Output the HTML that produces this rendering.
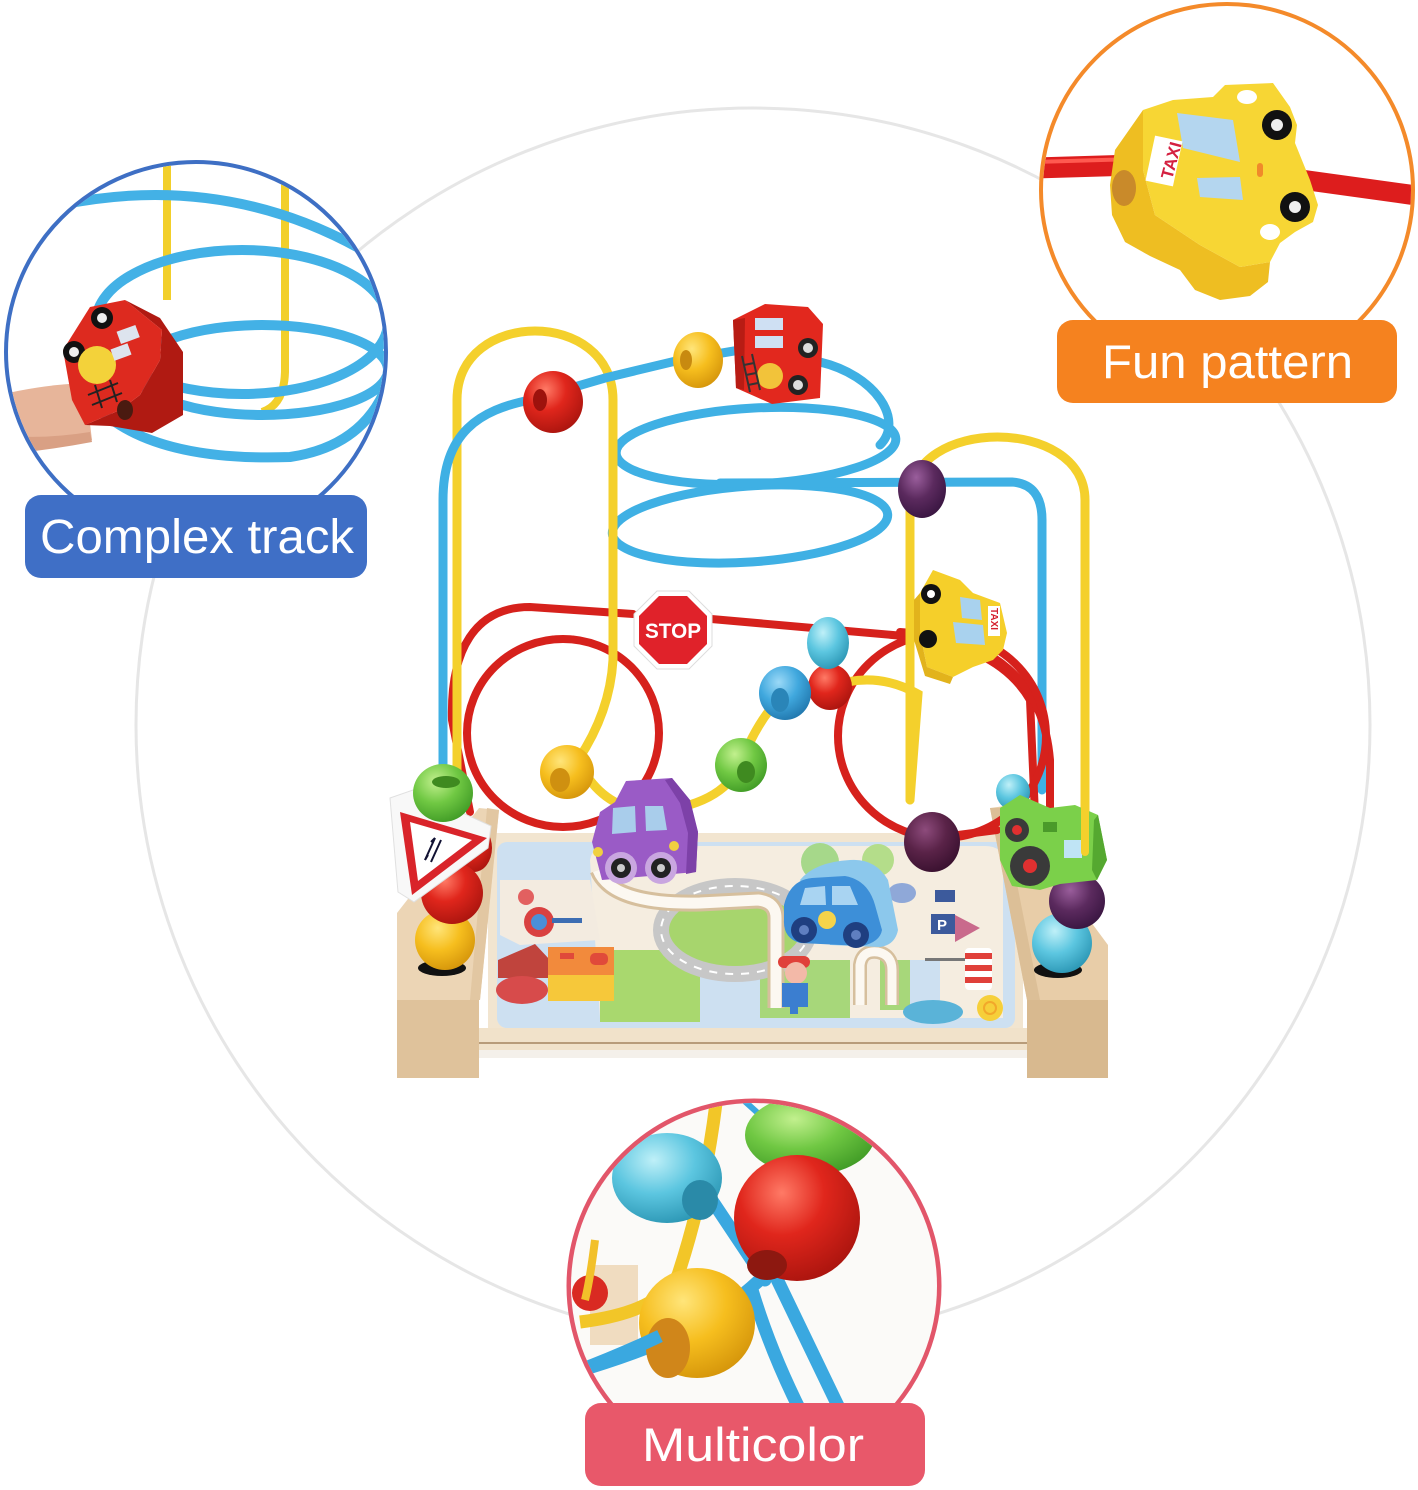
<!DOCTYPE html>
<html><head><meta charset="utf-8">
<style>
html,body{margin:0;padding:0;background:#fff;}
svg{display:block;}
</style></head>
<body>
<svg width="1418" height="1490" viewBox="0 0 1418 1490" xmlns="http://www.w3.org/2000/svg">
<defs>
 <radialGradient id="gR" cx="0.38" cy="0.3" r="0.75"><stop offset="0" stop-color="#ff7a66"/><stop offset="0.45" stop-color="#e0261c"/><stop offset="1" stop-color="#a9140e"/></radialGradient>
 <radialGradient id="gY" cx="0.38" cy="0.3" r="0.75"><stop offset="0" stop-color="#ffe57a"/><stop offset="0.5" stop-color="#f6be1e"/><stop offset="1" stop-color="#d4940a"/></radialGradient>
 <radialGradient id="gG" cx="0.38" cy="0.3" r="0.75"><stop offset="0" stop-color="#c2f08e"/><stop offset="0.5" stop-color="#70c843"/><stop offset="1" stop-color="#3f9a25"/></radialGradient>
 <radialGradient id="gB" cx="0.38" cy="0.3" r="0.75"><stop offset="0" stop-color="#9bd9f7"/><stop offset="0.5" stop-color="#40a8de"/><stop offset="1" stop-color="#2076ac"/></radialGradient>
 <radialGradient id="gT" cx="0.38" cy="0.3" r="0.75"><stop offset="0" stop-color="#bff0f8"/><stop offset="0.5" stop-color="#5cc6e0"/><stop offset="1" stop-color="#2a95b3"/></radialGradient>
 <radialGradient id="gP" cx="0.38" cy="0.3" r="0.75"><stop offset="0" stop-color="#9a5e9c"/><stop offset="0.5" stop-color="#5b2a5e"/><stop offset="1" stop-color="#381540"/></radialGradient>
 <radialGradient id="gD" cx="0.38" cy="0.3" r="0.75"><stop offset="0" stop-color="#8d4b7c"/><stop offset="0.5" stop-color="#5a2348"/><stop offset="1" stop-color="#38102e"/></radialGradient>
 <clipPath id="cB"><circle cx="196" cy="352" r="188"/></clipPath>
 <clipPath id="cO"><circle cx="1227" cy="190" r="184"/></clipPath>
 <clipPath id="cP"><circle cx="754" cy="1286" r="183"/></clipPath>
</defs>

<!-- big gray circle -->
<circle cx="753" cy="725" r="617" fill="none" stroke="#e6e6e6" stroke-width="3"/>

<!-- ================= MAIN TOY ================= -->
<!-- base -->
<g>
 <rect x="488" y="833" width="535" height="197" fill="#f2e5d0"/>
 <rect x="497" y="842" width="518" height="186" rx="10" fill="#cde0f1"/>
 <!-- cream areas -->
 <path d="M590 860 Q592 846 610 846 L985 846 Q1003 846 1003 862 L1003 1018 L940 1018 L940 960 L905 960 L905 1018 L815 1018 L815 965 L700 965 L700 1018 L600 1018 Z" fill="#f5ede0"/>
 <path d="M500 880 L590 880 L600 940 L520 945 L500 935 Z" fill="#f3ebe0"/>
 <!-- green patches -->
 <rect x="600" y="950" width="100" height="72" fill="#a9d86e"/>
 <rect x="760" y="960" width="90" height="58" fill="#a7d77a"/>
 <rect x="880" y="960" width="30" height="50" fill="#a7d77a"/>
 <circle cx="820" cy="862" r="19" fill="#a6d88a"/>
 <circle cx="878" cy="860" r="16" fill="#b4dd8a"/>
 <ellipse cx="735" cy="930" rx="74" ry="44" fill="#a7d56d" stroke="#c7c7c7" stroke-width="16"/>
 <ellipse cx="735" cy="930" rx="74" ry="44" fill="none" stroke="#fff" stroke-width="2" stroke-dasharray="8 8"/>
 <!-- slot groove -->
 <path d="M598 870 Q612 905 700 903 L758 900 Q776 902 776 918 L776 1008" fill="none" stroke="#d6bf9d" stroke-width="17"/>
 <path d="M598 870 Q612 905 700 903 L758 900 Q776 902 776 918 L776 1008" fill="none" stroke="#fcf8f1" stroke-width="11"/>
 <path d="M860 1005 L860 965 Q862 950 878 952 Q892 955 892 970 L892 1005" fill="none" stroke="#d6bf9d" stroke-width="14"/>
 <path d="M860 1005 L860 965 Q862 950 878 952 Q892 955 892 970 L892 1005" fill="none" stroke="#fcf8f1" stroke-width="9"/>
 <!-- house -->
 <polygon points="498,960 535,944 550,960 550,978 498,978" fill="#c0443d"/>
 <rect x="548" y="947" width="66" height="28" fill="#f28a3c"/>
 <rect x="548" y="975" width="66" height="26" fill="#f6c83a"/>
 <rect x="560" y="953" width="14" height="6" fill="#e04a3a"/>
 <rect x="590" y="953" width="18" height="12" rx="5" fill="#e04a3a"/>
 <ellipse cx="522" cy="990" rx="26" ry="14" fill="#d74b4b"/>
 <circle cx="539" cy="922" r="15" fill="#d94141"/>
 <circle cx="539" cy="922" r="8" fill="#4a8fd8"/>
 <rect x="552" y="918" width="30" height="5" fill="#3c6db3"/>
 <circle cx="526" cy="897" r="8" fill="#e26060"/>
 <!-- kid -->
 <rect x="778" y="956" width="32" height="12" rx="6" fill="#e0403a"/>
 <circle cx="796" cy="973" r="11" fill="#f3b9a8"/>
 <rect x="782" y="983" width="26" height="24" fill="#3b7ed0"/>
 <rect x="790" y="1006" width="8" height="8" fill="#3b7ed0"/>
 <!-- right print -->
 <rect x="931" y="914" width="24" height="20" fill="#3c5a9c"/>
 <text x="937" y="930" font-family="Liberation Sans, sans-serif" font-size="15" font-weight="bold" fill="#fff">P</text>
 <polygon points="955,915 980,928 955,942" fill="#c96a8c"/>
 <rect x="935" y="890" width="20" height="12" fill="#3c5a9c"/>
 <rect x="965" y="948" width="27" height="42" rx="4" fill="#fff"/>
 <rect x="965" y="953" width="27" height="6" fill="#e0403a"/>
 <rect x="965" y="965" width="27" height="6" fill="#e0403a"/>
 <rect x="965" y="977" width="27" height="6" fill="#e0403a"/>
 <rect x="925" y="958" width="40" height="3" fill="#777"/>
 <circle cx="990" cy="1008" r="13" fill="#f6cf3a"/>
 <circle cx="990" cy="1008" r="6" fill="none" stroke="#f2a82a" stroke-width="2"/>
 <ellipse cx="933" cy="1012" rx="30" ry="12" fill="#5ab3d8"/>
 <ellipse cx="902" cy="893" rx="14" ry="10" fill="#8fa8d8"/>
 <!-- front lip -->
 <rect x="433" y="1028" width="640" height="22" fill="#f1e2ca"/>
 <line x1="436" y1="1043" x2="1070" y2="1043" stroke="#b89c7a" stroke-width="2"/>
 <rect x="478" y="1050" width="550" height="8" fill="#f4f0ea"/>
 <!-- left block -->
 <polygon points="479,808 499,810 480,1000 397,1000 397,913" fill="#ecd5b5"/>
 <polygon points="487,808 499,810 480,1000 470,1000" fill="#e2c7a2"/>
 <rect x="397" y="1000" width="82" height="78" fill="#dfc29b"/>
 <!-- right block -->
 <polygon points="990,808 1005,806 1108,945 1108,1000 1027,1000" fill="#e8cda8"/>
 <polygon points="990,808 1002,808 1040,1000 1027,1000" fill="#dcbf97"/>
 <rect x="1027" y="1000" width="81" height="78" fill="#d8b98f"/>
</g>

<!-- back blue wires (spiral) -->
<g fill="none" stroke="#3fb0e4" stroke-width="9" stroke-linecap="round">
 <ellipse cx="756" cy="446" rx="140" ry="38" transform="rotate(-3 756 446)"/>
 <ellipse cx="750" cy="524" rx="138" ry="38" transform="rotate(-4 750 524)"/>
 <path d="M820 362 C875 375 905 420 880 445"/>
 <path d="M720 483 L1012 482 Q1042 484 1042 520 L1042 790"/>
</g>
<!-- red wires -->
<g fill="none" stroke="#d6211c" stroke-width="8" stroke-linecap="round">
 <path d="M633 614 L530 607 C475 607 450 650 452 720 L470 812"/>
 <ellipse cx="563" cy="733" rx="96" ry="94"/>
 <path d="M700 618 L915 637 Q1000 648 1030 700 L1035 815"/>
 <path d="M900 632 Q1040 640 1050 760 L1050 830"/>
 <ellipse cx="942" cy="736" rx="104" ry="102"/>
 <path d="M958 835 L997 830"/>
</g>
<!-- yellow wires -->
<g fill="none" stroke="#f4d02c" stroke-width="9" stroke-linecap="round">
 <path d="M457 792 L457 400 C457 308 613 308 613 400 L613 660 Q610 712 578 760"/>
 <path d="M578 760 Q600 808 650 812 Q722 806 740 765 Q758 718 785 693 L830 687 Q875 670 918 694 L910 800"/>
 <path d="M910 800 L910 500 C910 416 1085 416 1085 500 L1085 850"/>
</g>
<!-- front blue wire -->
<path d="M443 792 L443 500 C443 432 480 410 530 400 L605 378 L680 360 L740 350" fill="none" stroke="#3fb0e4" stroke-width="9" stroke-linecap="round"/>

<!-- top beads -->
<ellipse cx="553" cy="402" rx="30" ry="31" fill="url(#gR)"/>
<ellipse cx="540" cy="400" rx="7" ry="11" fill="#9d120d"/>
<ellipse cx="698" cy="360" rx="25" ry="28" fill="url(#gY)"/>
<ellipse cx="686" cy="360" rx="6" ry="10" fill="#c88a10"/>
<!-- fire truck -->
<g>
 <polygon points="733,320 765,304 808,307 823,324 820,398 772,404 736,388" fill="#e2281e"/>
 <polygon points="733,320 745,318 744,390 736,388" fill="#b81c14"/>
 <rect x="755" y="318" width="28" height="12" fill="#cfe0f3"/>
 <rect x="755" y="336" width="28" height="12" fill="#cfe0f3"/>
 <circle cx="808" cy="348" r="10" fill="#222"/><circle cx="808" cy="348" r="5" fill="#ddd"/>
 <circle cx="798" cy="385" r="10" fill="#222"/><circle cx="798" cy="385" r="5" fill="#ddd"/>
 <circle cx="770" cy="376" r="13" fill="#f2c33a"/>
 <path d="M742 356 L750 392 M752 354 L760 390 M744 365 L754 363 M746 375 L756 373 M748 385 L758 383" stroke="#333" stroke-width="2"/>
</g>
<!-- purple bead top -->
<ellipse cx="922" cy="489" rx="24" ry="29" fill="url(#gP)"/>
<!-- STOP -->
<g>
 <polygon points="657,591 689,591 712,614 712,646 689,669 657,669 634,646 634,614" fill="#fff" stroke="#ddd" stroke-width="1"/>
 <polygon points="659,596 687,596 707,616 707,644 687,664 659,664 639,644 639,616" fill="#e0222a"/>
 <text x="673" y="638" text-anchor="middle" font-family="Liberation Sans, sans-serif" font-weight="bold" font-size="21" fill="#fff" textLength="56" lengthAdjust="spacingAndGlyphs">STOP</text>
</g>
<!-- taxi main -->
<g>
 <polygon points="933,570 960,580 973,593 1000,603 1007,633 1003,650 993,660 973,667 953,677 927,667 920,633 920,593" fill="#f5cf2a"/>
 <polygon points="920,593 920,633 927,667 953,677 950,684 925,676 914,640 914,600" fill="#e2b31c"/>
 <polygon points="960,597 980,600 982,620 962,618" fill="#a9d2ee"/>
 <polygon points="953,622 983,625 985,645 956,643" fill="#a9d2ee"/>
 <circle cx="931" cy="594" r="10" fill="#111"/><circle cx="931" cy="594" r="4" fill="#fff"/>
 <circle cx="928" cy="639" r="9" fill="#111"/>
 <rect x="988" y="606" width="12" height="30" fill="#fff"/>
 <text x="0" y="0" transform="translate(991,608) rotate(90)" font-family="Liberation Sans, sans-serif" font-weight="bold" font-size="10" fill="#d42030">TAXI</text>
</g>
<!-- middle beads -->
<ellipse cx="830" cy="687" rx="22" ry="23" fill="url(#gR)"/>
<ellipse cx="828" cy="643" rx="21" ry="26" fill="url(#gT)"/>
<ellipse cx="785" cy="693" rx="26" ry="27" fill="url(#gB)"/>
<ellipse cx="780" cy="700" rx="9" ry="12" fill="#2a85b8"/>
<ellipse cx="567" cy="772" rx="27" ry="27" fill="url(#gY)"/>
<ellipse cx="560" cy="780" rx="10" ry="12" fill="#cf9010"/>
<ellipse cx="741" cy="765" rx="26" ry="27" fill="url(#gG)"/>
<ellipse cx="746" cy="772" rx="9" ry="11" fill="#3f8a20"/>
<!-- purple car -->
<g>
 <polygon points="592,842 600,812 615,802 626,781 672,778 690,800 698,832 696,872 602,880" fill="#9a5bc6"/>
 <polygon points="672,778 690,800 698,832 696,872 686,874 688,833 680,803 665,780" fill="#7d41a8"/>
 <polygon points="613,808 635,806 636,832 612,834" fill="#a9cdeb"/>
 <polygon points="645,806 663,806 667,830 646,831" fill="#a9cdeb"/>
 <circle cx="621" cy="868" r="16" fill="#c9a6e0"/><circle cx="621" cy="868" r="10" fill="#222"/><circle cx="621" cy="868" r="4" fill="#ccc"/>
 <circle cx="661" cy="868" r="16" fill="#c9a6e0"/><circle cx="661" cy="868" r="10" fill="#222"/><circle cx="661" cy="868" r="4" fill="#ccc"/>
 <circle cx="598" cy="852" r="5" fill="#f0d040"/><circle cx="674" cy="846" r="5" fill="#f0d040"/>
</g>
<!-- dark purple bead -->
<ellipse cx="932" cy="842" rx="28" ry="30" fill="url(#gD)"/>
<!-- blue car -->
<g>
 <path d="M800 880 Q815 862 850 860 Q875 858 888 880 L898 930 Q895 945 880 947 L830 945 Z" fill="#8cc8ec"/>
 <path d="M784 905 Q790 880 812 878 L845 876 Q868 880 875 905 L882 930 Q880 942 862 946 L800 943 Q783 938 784 920 Z" fill="#3d8fd8"/>
 <polygon points="805,888 825,886 826,905 800,905" fill="#a9d4f2"/>
 <polygon points="832,886 850,886 858,905 832,905" fill="#a9d4f2"/>
 <circle cx="827" cy="920" r="9" fill="#f5d34a"/>
 <circle cx="804" cy="930" r="13" fill="#1f3f80"/><circle cx="804" cy="930" r="5" fill="#5f7fc0"/>
 <circle cx="856" cy="935" r="13" fill="#1f3f80"/><circle cx="856" cy="935" r="5" fill="#5f7fc0"/>
</g>
<!-- left stack -->
<ellipse cx="442" cy="968" rx="24" ry="8" fill="#111"/>
<ellipse cx="445" cy="940" rx="30" ry="30" fill="url(#gY)"/>
<ellipse cx="474" cy="848" rx="18" ry="24" fill="url(#gR)"/>
<ellipse cx="452" cy="893" rx="31" ry="31" fill="url(#gR)"/>
<g>
 <polygon points="390,798 413,790 491,826 488,848 414,902 398,892" fill="#f8f8f8" stroke="#e0e0e0" stroke-width="1"/>
 <polygon points="400,812 487,838 412,895" fill="#d9242a"/>
 <polygon points="410,822 472,840 418,881" fill="#fff"/>
 <path d="M425 860 L435 838 M431 862 L441 840" stroke="#113" stroke-width="2"/>
 <path d="M435 838 L431 842 M425 860 L428 855" stroke="#113" stroke-width="2"/>
</g>
<ellipse cx="443" cy="793" rx="30" ry="29" fill="url(#gG)"/>
<ellipse cx="446" cy="782" rx="14" ry="6" fill="#3f8a20"/>
<!-- right stack -->
<ellipse cx="1058" cy="970" rx="24" ry="8" fill="#111"/>
<ellipse cx="1062" cy="943" rx="30" ry="30" fill="url(#gT)"/>
<ellipse cx="1077" cy="901" rx="28" ry="28" fill="url(#gP)"/>
<ellipse cx="1013" cy="792" rx="17" ry="18" fill="url(#gT)"/>
<g>
 <polygon points="1000,808 1020,795 1050,808 1075,805 1098,815 1107,860 1097,880 1060,884 1040,890 1012,886 1000,860" fill="#7bd04a"/>
 <polygon points="1098,815 1107,860 1097,880 1092,870 1094,820" fill="#55a830"/>
 <circle cx="1030" cy="866" r="20" fill="#3a3a3a"/><circle cx="1030" cy="866" r="7" fill="#e03030"/>
 <circle cx="1017" cy="830" r="12" fill="#3a3a3a"/><circle cx="1017" cy="830" r="5" fill="#e03030"/>
 <rect x="1064" y="840" width="18" height="18" fill="#bfe4f5"/>
 <rect x="1043" y="822" width="14" height="10" fill="#4a9a2a"/>
</g>
<path d="M1085 790 L1085 852" stroke="#f4d02c" stroke-width="8" stroke-linecap="round"/>

<!-- ================= BLUE CALLOUT ================= -->
<circle cx="196" cy="352" r="190" fill="#fff" stroke="#3e6fc4" stroke-width="4"/>
<g clip-path="url(#cB)">
 <path d="M167 150 L167 300" stroke="#f2cf2a" stroke-width="8" fill="none"/>
 <path d="M285 150 L285 372 Q284 405 262 412" stroke="#f2cf2a" stroke-width="8" fill="none"/>
 <g fill="none" stroke="#43b1e6" stroke-width="10">
  <path d="M60 205 Q240 168 392 268"/>
  <ellipse cx="242" cy="322" rx="146" ry="72"/>
  <ellipse cx="262" cy="370" rx="126" ry="45"/>
  <path d="M95 405 Q150 462 290 457 Q372 445 392 370"/>
 </g>
 <path d="M0 395 Q40 385 85 383 L92 440 Q50 446 0 452 Z" fill="#e7b59a"/>
 <path d="M0 435 Q40 440 90 432 L92 442 Q50 450 0 455 Z" fill="#d9a084"/>
 <polygon points="125,300 160,318 183,352 183,415 152,433 110,426 85,425 120,410 140,395 160,360 162,330" fill="#b01a12"/>
 <polygon points="63,350 90,307 125,300 162,330 160,360 140,395 120,410 85,425 72,400" fill="#dd2a1f"/>
 <circle cx="102" cy="318" r="11" fill="#111"/><circle cx="102" cy="318" r="5" fill="#eee"/>
 <circle cx="74" cy="352" r="11" fill="#111"/><circle cx="74" cy="352" r="5" fill="#eee"/>
 <circle cx="97" cy="365" r="19" fill="#f3d23a"/>
 <rect x="118" y="328" width="20" height="13" fill="#dde4ee" transform="rotate(-20 128 334)"/>
 <rect x="112" y="346" width="18" height="12" fill="#dde4ee" transform="rotate(-20 121 352)"/>
 <path d="M88 395 L118 383 M92 405 L122 393 M95 385 L102 408 M110 380 L117 402" stroke="#222" stroke-width="2"/>
 <ellipse cx="125" cy="410" rx="8" ry="10" fill="#4a1a10"/>
</g>
<rect x="25" y="495" width="342" height="83" rx="16" fill="#3f6fc6"/>
<text x="40" y="553" font-family="Liberation Sans, DejaVu Sans, sans-serif" font-size="48" fill="#fff" textLength="314" lengthAdjust="spacingAndGlyphs">Complex track</text>

<!-- ================= ORANGE CALLOUT ================= -->
<circle cx="1227" cy="190" r="186" fill="#fff" stroke="#f48a2a" stroke-width="4"/>
<g clip-path="url(#cO)">
 <path d="M1035 168 L1135 165" stroke="#dd1d1d" stroke-width="21" fill="none"/>
 <path d="M1035 162 L1135 159" stroke="#ff5a50" stroke-width="4" fill="none"/>
 <path d="M1290 178 L1420 196" stroke="#dd1d1d" stroke-width="20" fill="none"/>
 <polygon points="1110,185 1115,150 1143,110 1143,170 1155,215 1200,245 1240,267 1270,262 1268,282 1250,296 1220,300 1195,290 1180,270 1150,256 1125,242 1112,215" fill="#eebe22"/>
 <polygon points="1143,110 1173,100 1213,97 1225,85 1273,83 1290,107 1297,125 1295,143 1310,180 1318,205 1313,222 1295,232 1280,243 1270,262 1240,267 1200,245 1155,215 1143,170" fill="#f7d634"/>
 <ellipse cx="1124" cy="188" rx="12" ry="18" fill="#c98a2a"/>
 <polygon points="1177,113 1233,120 1240,162 1183,148" fill="#b4d6ef"/>
 <polygon points="1197,178 1240,177 1243,200 1200,197" fill="#b4d6ef"/>
 <circle cx="1277" cy="125" r="15" fill="#111"/><circle cx="1277" cy="125" r="6" fill="#eee"/>
 <circle cx="1295" cy="207" r="15" fill="#111"/><circle cx="1295" cy="207" r="6" fill="#eee"/>
 <ellipse cx="1247" cy="97" rx="10" ry="7" fill="#fff"/>
 <ellipse cx="1270" cy="232" rx="10" ry="8" fill="#fff"/>
 <rect x="1257" y="163" width="6" height="14" rx="3" fill="#f08a2a"/>
 <rect x="1150" y="138" width="28" height="46" fill="#fff" transform="rotate(12 1164 161)"/>
 <text x="0" y="0" transform="translate(1172,180) rotate(-75)" font-family="Liberation Sans, sans-serif" font-weight="bold" font-size="17" fill="#d42040">TAXI</text>
</g>
<rect x="1057" y="320" width="340" height="83" rx="16" fill="#f5821f"/>
<text x="1102" y="378" font-family="Liberation Sans, DejaVu Sans, sans-serif" font-size="47" fill="#fff" textLength="251" lengthAdjust="spacingAndGlyphs">Fun pattern</text>

<!-- ================= PINK CALLOUT ================= -->
<circle cx="754" cy="1286" r="185" fill="#fff" stroke="#e2566a" stroke-width="5"/>
<g clip-path="url(#cP)">
 <rect x="560" y="1090" width="400" height="400" fill="#fbfaf8"/>
 <rect x="590" y="1265" width="48" height="80" fill="#f0dcc0"/>
 <ellipse cx="590" cy="1293" rx="18" ry="18" fill="#d92a22"/>
 <path d="M595 1240 Q590 1280 585 1300" stroke="#f2c02a" stroke-width="8" fill="none"/>
 <path d="M717 1095 Q706 1190 678 1275 Q660 1312 580 1322" stroke="#f2c628" stroke-width="13" fill="none"/>
 <g fill="none" stroke="#3aa8e0" stroke-width="13" stroke-linecap="round">
  <path d="M703 1187 L765 1280"/>
  <path d="M770 1270 Q740 1300 703 1323 Q650 1350 575 1372"/>
  <path d="M775 1275 L840 1410"/>
  <path d="M752 1290 Q770 1350 800 1410"/>
 </g>
 <path d="M740 1097 L760 1115" stroke="#3aa8e0" stroke-width="6"/>
 <ellipse cx="810" cy="1135" rx="65" ry="40" fill="url(#gG)"/>
 <ellipse cx="667" cy="1178" rx="55" ry="45" fill="url(#gT)"/>
 <ellipse cx="700" cy="1200" rx="18" ry="20" fill="#2a8aa8"/>
 <circle cx="797" cy="1218" r="63" fill="url(#gR)"/>
 <ellipse cx="767" cy="1265" rx="20" ry="15" fill="#8d1810"/>
 <ellipse cx="697" cy="1323" rx="58" ry="55" fill="url(#gY)"/>
 <ellipse cx="668" cy="1348" rx="22" ry="30" fill="#d0861a"/>
 <path d="M660 1336 Q620 1355 575 1372" stroke="#3aa8e0" stroke-width="13" fill="none"/>
</g>
<rect x="585" y="1403" width="340" height="83" rx="16" fill="#e8586a"/>
<text x="642" y="1461" font-family="Liberation Sans, DejaVu Sans, sans-serif" font-size="47" fill="#fff" textLength="222" lengthAdjust="spacingAndGlyphs">Multicolor</text>
</svg>
</body></html>
